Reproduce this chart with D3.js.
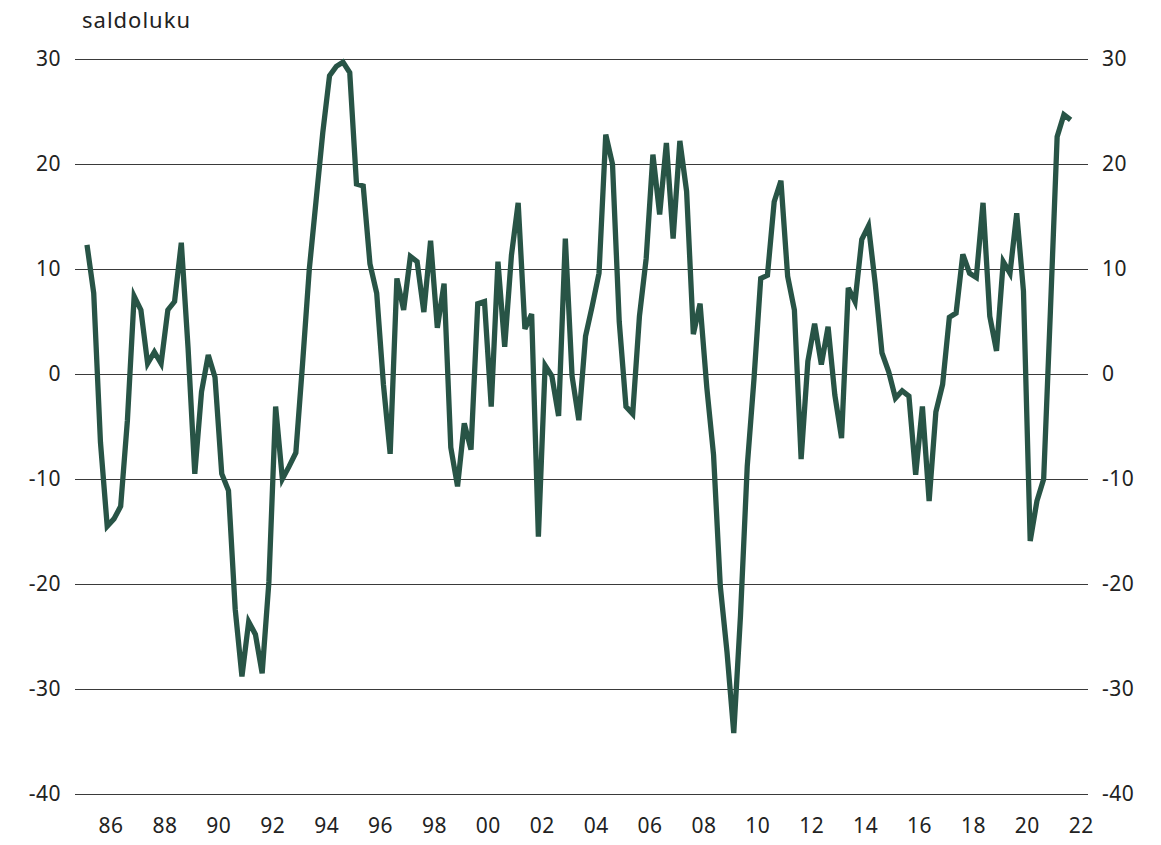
<!DOCTYPE html>
<html>
<head>
<meta charset="utf-8">
<script src="https://cdn.jsdelivr.net/npm/d3@7"></script>
<style>
  html, body { margin: 0; padding: 0; background: #fff; }
  svg text { font-family: "Noto Sans", "Open Sans", sans-serif; fill: #222; }
</style>
</head>
<body>
<svg id="chart" width="1161" height="845"></svg>
<script>
// Quarterly series, 1985Q1 .. 2021Q3 (saldoluku)
const startYear = 1985;
const values = [
  12.3, 7.7, -6.5, -14.5, -13.8, -12.6, -4.4, 7.4, 6.1, 1.0,
  2.1, 1.0, 6.1, 6.9, 12.5, 2.5, -9.5, -1.7, 1.8, -0.3,
  -9.5, -11.1, -22.4, -28.8, -23.6, -24.8, -28.5, -19.8, -3.1, -10.0,
  -8.8, -7.5, 1.0, 10.0, 16.5, 23.0, 28.4, 29.3, 29.7, 28.7,
  18.1, 17.9, 10.5, 7.7, -1.0, -7.6, 9.1, 6.1, 11.2, 10.7,
  5.9, 12.7, 4.4, 8.6, -7.0, -10.7, -4.7, -7.2, 6.7, 6.9,
  -3.1, 10.7, 2.6, 11.3, 16.3, 4.3, 5.7, -15.5, 0.8, -0.2,
  -4.0, 12.9, -0.2, -4.4, 3.6, 6.5, 9.6, 22.8, 20.0, 5.0,
  -3.1, -3.8, 5.5, 11.0, 20.9, 15.2, 22.0, 12.9, 22.2, 17.4,
  3.8, 6.7, -1.3, -7.7, -20.2, -26.5, -34.2, -23.0, -8.8, -0.5,
  9.1, 9.4, 16.4, 18.4, 9.3, 6.1, -8.1, 1.2, 4.8, 0.9,
  4.5, -2.0, -6.1, 8.2, 6.9, 12.8, 14.1, 8.6, 2.0, 0.2,
  -2.3, -1.6, -2.1, -9.6, -3.1, -12.1, -3.6, -1.0, 5.4, 5.8,
  11.4, 9.6, 9.2, 16.3, 5.5, 2.2, 10.7, 9.6, 15.3, 7.9,
  -15.9, -12.1, -10.0, 6.0, 22.6, 24.7, 24.2
];
const xTickYears = [1986, 1988, 1990, 1992, 1994, 1996, 1998, 2000, 2002, 2004,
                    2006, 2008, 2010, 2012, 2014, 2016, 2018, 2020, 2022];
const yTicks = [30, 20, 10, 0, -10, -20, -30, -40];
const yLabel = "saldoluku";

const data = values.map((v, i) => ({ t: startYear + i / 4 + 0.125, v }));

const svg = d3.select("#chart");
const plotLeft = 75, plotRight = 1088, plotTop = 59, plotBottom = 794;

const x = d3.scaleLinear().domain([1984.68, 2022.27]).range([plotLeft, plotRight]);
const y = d3.scaleLinear().domain([-40, 30]).range([plotBottom, plotTop]);

const fmt = d => d < 0 ? "-" + Math.abs(d) : String(d);
const font = '"Noto Sans", sans-serif';

// gridlines
svg.append("g")
  .selectAll("line").data(yTicks).join("line")
  .attr("x1", plotLeft).attr("x2", plotRight)
  .attr("y1", d => Math.round(y(d)) + 0.5).attr("y2", d => Math.round(y(d)) + 0.5)
  .attr("stroke", "#3a3a3a").attr("stroke-width", 1);

// left axis labels
const gl = svg.append("g").attr("transform", "translate(61,0)")
  .call(d3.axisLeft(y).tickValues(yTicks).tickSize(0).tickPadding(0).tickFormat(fmt));
gl.select(".domain").remove();
gl.selectAll("text").attr("font-size", 21).attr("fill", "#222").attr("letter-spacing", 0.5)
  .style("font-family", font);

// right axis labels
const gr = svg.append("g").attr("transform", "translate(1102,0)")
  .call(d3.axisRight(y).tickValues(yTicks).tickSize(0).tickPadding(0).tickFormat(fmt));
gr.select(".domain").remove();
gr.selectAll("text").attr("font-size", 21).attr("fill", "#222").attr("letter-spacing", 0.5)
  .style("font-family", font);

// x axis labels
const gx = svg.append("g").attr("transform", "translate(0,818)")
  .call(d3.axisBottom(x).tickValues(xTickYears).tickSize(0).tickPadding(0)
    .tickFormat(d => String(d % 100).padStart(2, "0")));
gx.select(".domain").remove();
gx.selectAll("text").attr("font-size", 21).attr("fill", "#222").attr("letter-spacing", 0.5)
  .style("font-family", font);

// unit label
svg.append("text").attr("x", 82).attr("y", 28).attr("font-size", 22)
  .attr("letter-spacing", 1).text(yLabel);

// line
const line = d3.line().x(d => x(d.t)).y(d => y(d.v));
svg.append("path").datum(data)
  .attr("d", line)
  .attr("fill", "none")
  .attr("stroke", "#285446")
  .attr("stroke-width", 5.3)
  .attr("stroke-linejoin", "miter")
  .attr("stroke-miterlimit", 4);
</script>
</body>
</html>
